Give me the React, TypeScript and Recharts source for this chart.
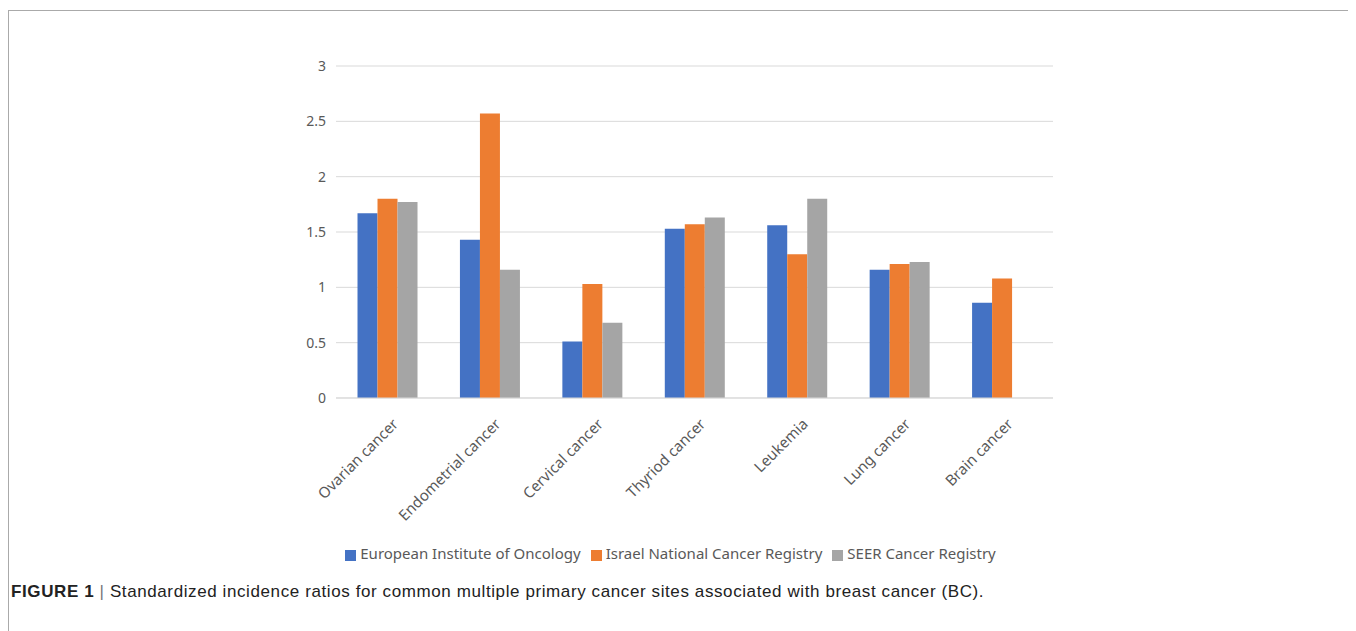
import React from "react";
import { BarChart, Bar, XAxis, YAxis, CartesianGrid, Legend } from "recharts";

const categories = [
  "Ovarian cancer",
  "Endometrial cancer",
  "Cervical cancer",
  "Thyriod cancer",
  "Leukemia",
  "Lung cancer",
  "Brain cancer",
];
const europeanInstitute = [1.67, 1.43, 0.51, 1.53, 1.56, 1.16, 0.86];
const israelRegistry = [1.8, 2.57, 1.03, 1.57, 1.3, 1.21, 1.08];
const seerRegistry = [1.77, 1.16, 0.68, 1.63, 1.8, 1.23, null];
const yTicks = [0, 0.5, 1, 1.5, 2, 2.5, 3];

const data = categories.map((name, i) => ({
  name,
  eio: europeanInstitute[i],
  incr: israelRegistry[i],
  seer: seerRegistry[i],
}));

const FONT = "'Noto Sans', 'Open Sans', sans-serif";
const TEXT = "#595959";

const AngledTick = (props: any) => {
  const { x, y, payload } = props;
  return (
    <text
      transform={`translate(${x + 12},${y + 19}) rotate(-45)`}
      textAnchor="end"
      fill={TEXT}
      fontSize={15}
      fontFamily={FONT}
    >
      {payload.value}
    </text>
  );
};

const App = () => {
  return (
    <div
      style={{
        position: "relative",
        marginTop: 2,
        width: 1344,
        height: 620,
        borderTop: "1px solid #aaa",
        borderLeft: "1px solid #aaa",
        borderRight: "1px solid #aaa",
      }}
    >
      <BarChart
        width={1344}
        height={560}
        data={data}
        margin={{ top: 55, right: 300, left: 0, bottom: 4 }}
        barCategoryGap="21%"
        barGap={0}
      >
        <CartesianGrid vertical={false} stroke="#d9d9d9" />
        <XAxis
          dataKey="name"
          axisLine={{ stroke: "#d9d9d9" }}
          tickLine={false}
          interval={0}
          height={139}
          tick={<AngledTick />}
        />
        <YAxis
          width={327}
          domain={[0, 3]}
          ticks={yTicks}
          axisLine={false}
          tickLine={false}
          tickMargin={4}
          tick={{ fill: TEXT, fontSize: 14, fontFamily: FONT }}
        />
        <Legend
          verticalAlign="bottom"
          height={30}
          iconType="square"
          iconSize={11}
          wrapperStyle={{ left: 0, width: 1333, bottom: -2 }}
          formatter={(value) => (
            <span style={{ color: TEXT, fontSize: 15, fontFamily: FONT }}>{value}</span>
          )}
        />
        <Bar dataKey="eio" name="European Institute of Oncology" fill="#4472C4" isAnimationActive={false} />
        <Bar dataKey="incr" name="Israel National Cancer Registry" fill="#ED7D31" isAnimationActive={false} />
        <Bar dataKey="seer" name="SEER Cancer Registry" fill="#A5A5A5" isAnimationActive={false} />
      </BarChart>
      <div
        style={{
          position: "absolute",
          left: 2,
          top: 571,
          fontFamily: "'Liberation Sans', Arial, sans-serif",
          fontSize: 17,
          letterSpacing: 0.6,
          color: "#222",
          whiteSpace: "nowrap",
        }}
      >
        <b>FIGURE 1</b> <span style={{ color: "#777" }}>|</span> Standardized incidence ratios for common multiple primary cancer sites associated with breast cancer (BC).
      </div>
    </div>
  );
};

export default App;
